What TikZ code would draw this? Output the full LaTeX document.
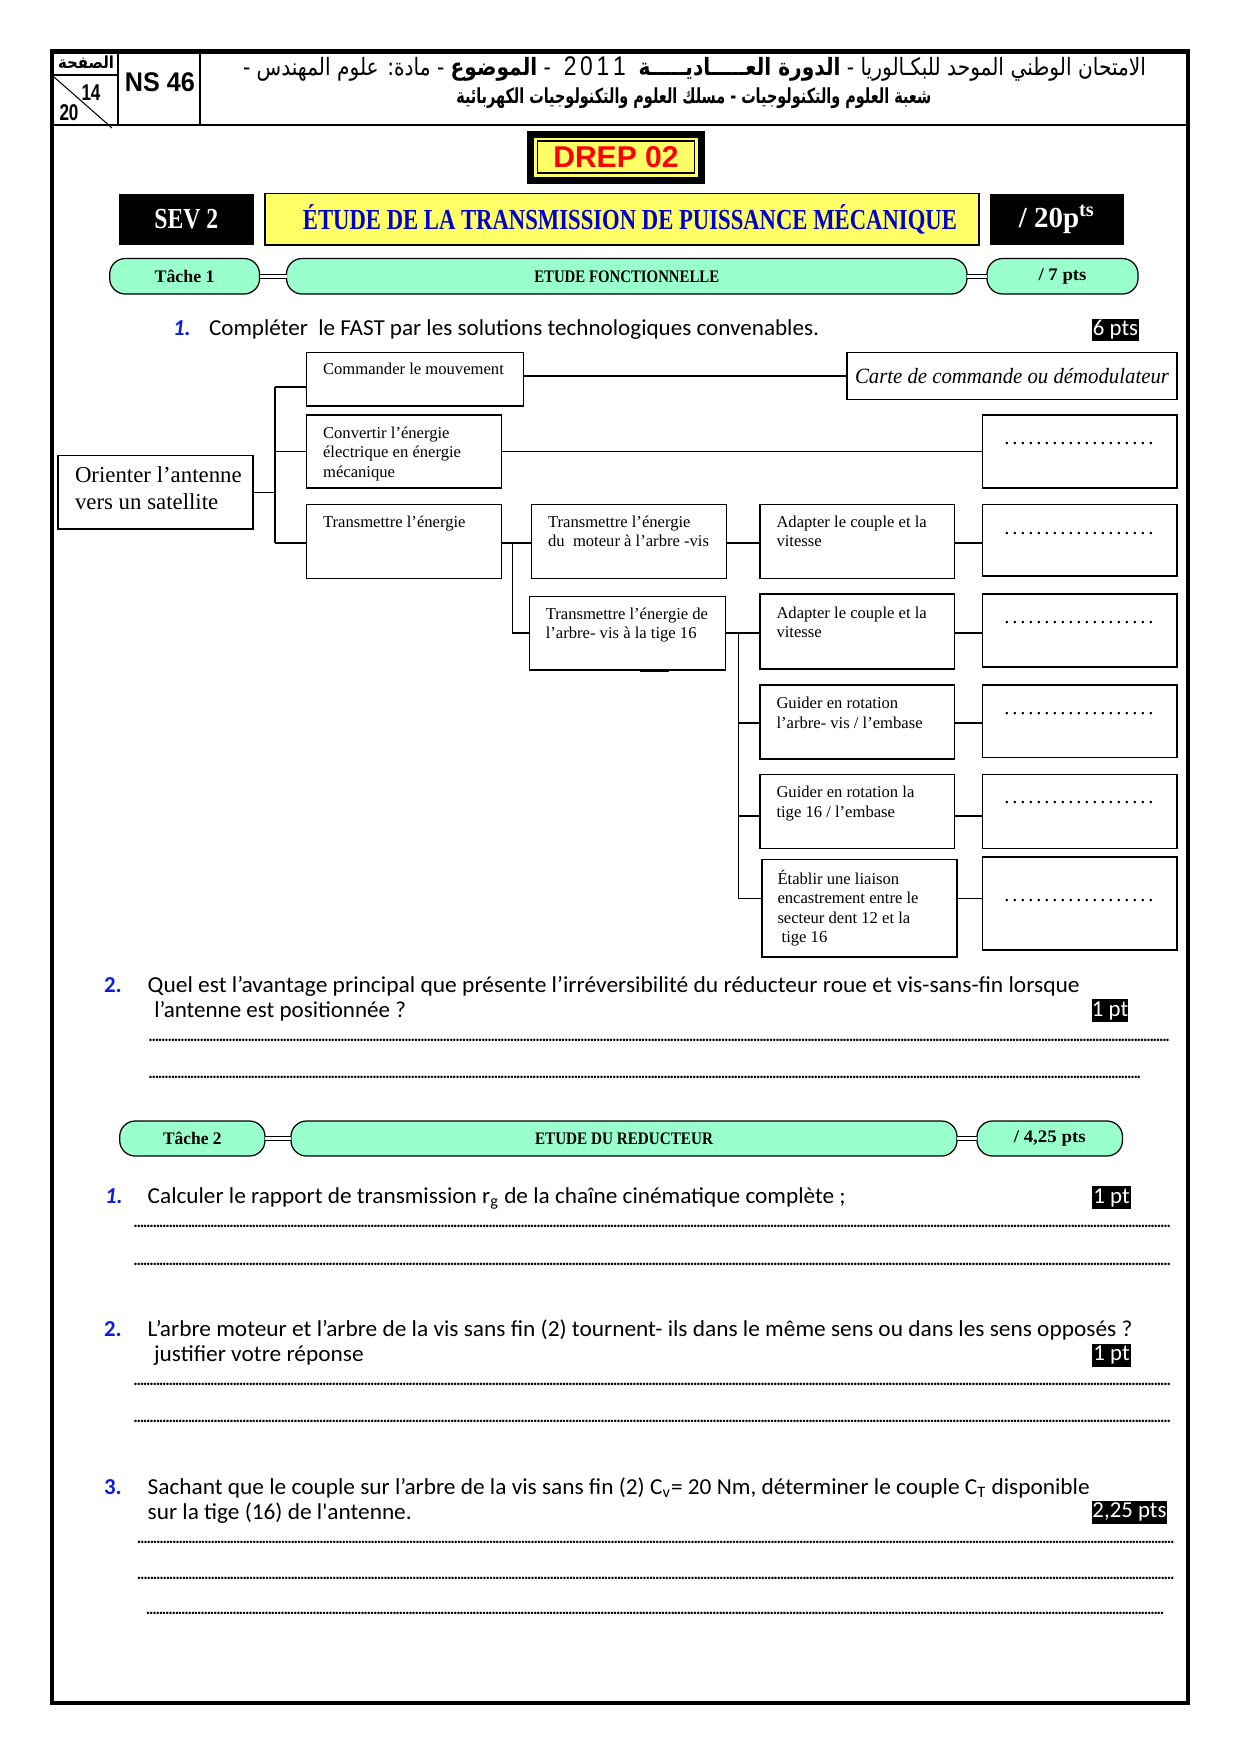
\documentclass[tikz,border=0pt]{standalone}
\usepackage{fontspec}
\usepackage{graphicx}
\setmainfont{Liberation Serif}
\newfontfamily\qf{Carlito}
\newfontfamily\af{Liberation Sans}
\newfontfamily\arabicf[Script=Arabic]{DejaVu Sans}
\TeXXeTstate=1
\newdimen\pxu \pxu=0.48186pt
\newsavebox\fitbox
\newcommand\fitw[2]{\sbox\fitbox{#2}\resizebox{#1}{\ht\fitbox}{\usebox\fitbox}}
\newcommand\dotrow[3]{\hbox to #1{\leaders\hbox to #2{\hss#3\hss}\hfill}}
\definecolor{mint}{RGB}{153,255,204}
\definecolor{yel}{RGB}{255,255,102}
\definecolor{tblue}{RGB}{0,0,204}
\definecolor{qblue}{RGB}{10,30,220}
\newcommand\mybox[7][bxs]{\node[#1, minimum width={(#5-#3)*0.48186pt}, minimum height={(#6-#4)*0.48186pt}] (#2) at ({(#3+#5)/2},{(#4+#6)/2}) {#7};}
\begin{document}
\begin{tikzpicture}[x=0.48186pt,y=-0.48186pt,
  bxs/.style={draw, line width=0.6pt, inner sep=0pt, outer sep=0pt},
  lbl/.style={anchor=north west, inner sep=0pt, outer sep=0pt, align=left, font=\fontsize{8}{9.4}\selectfont},
  capsule/.style={draw, line width=0.6pt, fill=mint, rounded corners=7.5pt, inner sep=0pt, outer sep=0pt, font=\bfseries\fontsize{8.5}{10}\selectfont},
  link/.style={draw, line width=0.5pt, double=white, double distance=1.3pt},
  wire/.style={line width=0.6pt},
  blk/.style={fill=black, inner sep=0pt, outer sep=0pt, text=white},
  pts/.style={fill=black, text=white, inner sep=0pt, outer sep=0pt, font=\qf\fontsize{11}{11}\selectfont},
  q/.style={anchor=base west, inner sep=0pt, outer sep=0pt, font=\qf\fontsize{11}{13}\selectfont},
  qn/.style={anchor=base west, inner sep=0pt, outer sep=0pt, text=qblue, font=\qf\bfseries\fontsize{11}{13}\selectfont},
  dl/.style={anchor=base west, inner sep=0pt, outer sep=0pt, font=\qf\bfseries\fontsize{8}{8}\selectfont},
  ad/.style={anchor=base west, inner sep=0pt, outer sep=0pt, font=\fontsize{10}{10}\selectfont},
]
\useasboundingbox (0,0) rectangle (1240,1755);
% page frame and header
\draw[line width=2.1pt] (52,51.5) rectangle (1188,1703);
\draw[line width=1.4pt] (52,125) -- (1188,125);
\draw[line width=1.2pt] (118,51.5) -- (118,125);
\draw[line width=1.2pt] (200,51.5) -- (200,125);
\draw[line width=0.9pt] (52,75) -- (118,75);
\draw[line width=0.5pt] (54,77) -- (112,128);
\node[inner sep=0pt] (pg) at (86,62) {\fitw{56\pxu}{\arabicf\bfseries\fontsize{8}{8}\selectfont\beginR الصفحة\endR}};
\node[inner sep=0pt, font=\af\bfseries\fontsize{11}{11}\selectfont] (p14) at (91,93) {\fitw{19\pxu}{14}};
\node[inner sep=0pt, font=\af\bfseries\fontsize{11}{11}\selectfont] (p20) at (69,113) {\fitw{19\pxu}{20}};
\node[inner sep=0pt] (ns) at (160,82) {\fitw{70\pxu}{\af\bfseries\fontsize{13}{13}\selectfont NS 46}};
\node[inner sep=0pt] (ar1) at (694.5,69) {\fitw{903\pxu}{\arabicf\fontsize{11.5}{12}\selectfont\beginR الامتحان الوطني الموحد للبكـالوريا - {\bfseries الدورة العـــــاديـــــة}\ \ \beginL{\af\fontsize{13}{13}\selectfont 2\,0\,1\,1}\endL\ \ - {\bfseries الموضوع} - مادة: علوم المهندس -\endR}};
\node[inner sep=0pt] (ar2) at (693.8,98.5) {\fitw{475\pxu}{\arabicf\bfseries\fontsize{10}{10}\selectfont\beginR شعبة العلوم والتكنولوجيات - مسلك العلوم والتكنولوجيات الكهربائية\endR}};
% DREP
\mybox[blk]{drepo}{527}{130.5}{705}{183.5}{}
\mybox[fill=yel, inner sep=0pt, outer sep=0pt]{drepi}{534}{137.5}{698}{176.5}{}
\mybox[draw, line width=0.5pt, inner sep=0pt, outer sep=0pt]{drep}{537.5}{141}{694.5}{173}{\af\bfseries\fontsize{14.5}{14.5}\selectfont\color{red}DREP 02}
% title row
\mybox[blk]{sev}{118.6}{193.6}{254}{245}{\fitw{64\pxu}{\bfseries\fontsize{14}{14}\selectfont SEV 2}}
\mybox[draw, line width=0.8pt, fill=yel, inner sep=0pt, outer sep=0pt, text=tblue]{ttl}{265}{193.6}{979}{245}{\hspace*{16\pxu}\fitw{654\pxu}{\bfseries\fontsize{14}{14}\selectfont ÉTUDE DE LA TRANSMISSION DE PUISSANCE MÉCANIQUE}}
\mybox[blk]{tot}{990}{193.6}{1123.6}{245}{\fitw{76\pxu}{\bfseries\fontsize{14}{14}\selectfont / 20p\textsuperscript{ts}}}
% task 1 row
\mybox[capsule]{k1}{109.7}{258.5}{259.6}{294}{\fitw{60\pxu}{Tâche 1}}
\mybox[capsule]{k2}{286.5}{258.5}{967}{294}{\fitw{185\pxu}{ETUDE FONCTIONNELLE}}
\mybox[capsule]{k3}{987}{258.5}{1138}{294}{\fitw{48\pxu}{/ 7 pts}}
\draw[link] (k1.east) -- (k2.west);
\draw[link] (k2.east) -- (k3.west);
% question 1
\node[qn, font=\qf\bfseries\itshape\fontsize{11}{13}\selectfont] (n1) at (173,335) {1.};
\node[q] (q1) at (209,335) {\fitw{610\pxu}{Compléter~ le FAST par les solutions technologiques convenables.}};
\mybox[pts]{p1}{1092}{319}{1139}{341}{6 pts}
% FAST boxes
\mybox{orient}{58}{455.5}{253}{529}{}
\mybox{cmd}{306.6}{352.5}{523.7}{406}{}
\mybox{carte}{847}{352.5}{1177}{399.5}{\fitw{314\pxu}{\itshape\fontsize{10.5}{12}\selectfont Carte de commande ou démodulateur}}
\mybox{conv}{306.6}{415}{501.4}{488}{}
\mybox{trans}{306.6}{504.7}{501.4}{578.6}{}
\mybox{tm1}{531.6}{504.7}{726.3}{578.6}{}
\mybox{ad1}{760}{504.7}{954.6}{578.6}{}
\mybox{tm2}{529.3}{596.5}{725.2}{670}{}
\mybox{ad2}{760}{594}{954.6}{669}{}
\mybox{g1}{760}{685}{954.6}{759}{}
\mybox{g2}{760}{774.4}{954.6}{848.3}{}
\mybox{etab}{762}{859.5}{957}{957}{}
\mybox{ans1}{982.6}{415}{1177}{488}{}
\mybox{ans2}{982.6}{504.7}{1177}{576}{}
\mybox{ans3}{982.6}{594}{1177}{667}{}
\mybox{ans4}{982.6}{685}{1177}{757.6}{}
\mybox{ans5}{982.6}{774.4}{1177}{848.3}{}
\mybox{ans6}{982.6}{857}{1177}{950}{}
% labels
\node[lbl, font=\fontsize{11}{13}\selectfont] (orient-t) at ([shift={(17,11.5)}]orient.north west) {Orienter l’antenne\\vers un satellite};
\node[lbl] (cmd-t) at ([shift={(16.5,10.4)}]cmd.north west) {Commander le mouvement};
\node[lbl] (conv-t) at ([shift={(16.5,11.5)}]conv.north west) {Convertir l’énergie\\électrique en énergie\\mécanique};
\node[lbl] (trans-t) at ([shift={(16.5,11)}]trans.north west) {Transmettre l’énergie};
\node[lbl] (tm1-t) at ([shift={(16.5,11)}]tm1.north west) {Transmettre l’énergie\\du~ moteur à l’arbre -vis};
\node[lbl] (tm2-t) at ([shift={(16.5,11)}]tm2.north west) {Transmettre l’énergie de\\l’arbre- vis à la tige 16};
\node[lbl] (ad1-t) at ([shift={(16.5,11)}]ad1.north west) {Adapter le couple et la\\vitesse};
\node[lbl] (ad2-t) at ([shift={(16.5,12.5)}]ad2.north west) {Adapter le couple et la\\vitesse};
\node[lbl] (g1-t) at ([shift={(16.5,12)}]g1.north west) {Guider en rotation\\l’arbre- vis / l’embase};
\node[lbl] (g2-t) at ([shift={(16.5,12)}]g2.north west) {Guider en rotation la\\tige 16 / l’embase};
\node[lbl] (etab-t) at ([shift={(15.5,10.5)}]etab.north west) {Établir une liaison\\encastrement entre le\\secteur dent 12 et la\\\ tige 16};
% answer dots
\foreach \a in {ans1,ans2,ans3,ans4,ans5}{
  \node[ad] (\a-d) at ([shift={(20.4,29.5)}]\a.north west) {\dotrow{152\pxu}{8\pxu}{.}};
}
\node[ad] (ans6-d) at ([shift={(20.4,44.5)}]ans6.north west) {\dotrow{152\pxu}{8\pxu}{.}};
% FAST connectors
\coordinate (s1) at (275,387);
\coordinate (s3) at (275,543);
\draw[wire] (s1) -- (s3);
\draw[wire] (orient.east) -- (orient.east -| s1);
\draw[wire] (s1) -- (s1 -| cmd.west);
\draw[wire] (conv.west -| s1) -- (conv.west);
\draw[wire] (s3) -- (s3 -| trans.west);
\draw[wire] (cmd.east |- carte.west) -- (carte.west);
\draw[wire] (conv.east) -- (conv.east -| ans1.west);
\coordinate (t1) at (512.6,543);
\coordinate (t2) at (512.6,633);
\draw[wire] (trans.east |- t1) -- (t1 -| tm1.west);
\draw[wire] (t1) -- (t2) -- (t2 -| tm2.west);
\draw[wire] (tm1.east |- t1) -- (t1 -| ad1.west);
\draw[wire] (ad1.east |- t1) -- (t1 -| ans2.west);
\coordinate (u1) at (738.6,633);
\coordinate (u2) at (738.6,723);
\coordinate (u3) at (738.6,816);
\coordinate (u4) at (738.6,898.6);
\draw[wire] (tm2.east |- u1) -- (u1 -| ad2.west);
\draw[wire] (u1) -- (u4);
\draw[wire] (u2) -- (u2 -| g1.west);
\draw[wire] (u3) -- (u3 -| g2.west);
\draw[wire] (u4) -- (u4 -| etab.west);
\draw[wire] (ad2.east |- u1) -- (u1 -| ans3.west);
\draw[wire] (g1.east |- u2) -- (u2 -| ans4.west);
\draw[wire] (g2.east |- u3) -- (u3 -| ans5.west);
\draw[wire] (etab.east |- u4) -- (u4 -| ans6.west);
\draw[line width=1pt] (640,670.5) -- (669,670.5);
% question 2
\node[qn] (n2) at (104,992) {2.};
\node[q] (q2a) at (147.7,992) {\fitw{932\pxu}{Quel est l’avantage principal que présente l’irréversibilité du réducteur roue et vis-sans-fin lorsque}};
\node[q] (q2b) at (154.4,1017) {\fitw{251.6\pxu}{l’antenne est positionnée ?}};
\mybox[pts]{p2}{1092}{999}{1128}{1022}{1 pt}
\node[dl] (d1) at (149,1041) {\dotrow{1022\pxu}{3.2\pxu}{.}};
\node[dl] (d2) at (149,1078) {\dotrow{992.5\pxu}{3.2\pxu}{.}};
% task 2 row
\mybox[capsule]{m1}{119.7}{1121}{265}{1156}{\fitw{58.6\pxu}{Tâche 2}}
\mybox[capsule]{m2}{291}{1121}{957}{1156}{\fitw{178\pxu}{ETUDE DU REDUCTEUR}}
\mybox[capsule]{m3}{977}{1121}{1122.5}{1156}{\fitw{72\pxu}{/ 4,25 pts}}
\draw[link] (m1.east) -- (m2.west);
\draw[link] (m2.east) -- (m3.west);
% task 2 questions
\node[qn, font=\qf\bfseries\itshape\fontsize{11}{13}\selectfont] (n3) at (105,1203.5) {1.};
\node[q] (q3) at (147.7,1203.5) {\fitw{698\pxu}{Calculer le rapport de transmission r\textsubscript{g} de la chaîne cinématique complète ;}};
\mybox[pts]{p3}{1092}{1186}{1131}{1209}{1 pt}
\node[dl] (d3) at (134,1227.5) {\dotrow{1039\pxu}{3.2\pxu}{.}};
\node[dl] (d4) at (134,1265.5) {\dotrow{1039\pxu}{3.2\pxu}{.}};
\node[qn] (n4) at (104,1336.6) {2.};
\node[q] (q4a) at (147.7,1336.6) {\fitw{984.8\pxu}{L’arbre moteur et l’arbre de la vis sans fin (2) tournent- ils dans le même sens ou dans les sens opposés ?}};
\node[q] (q4b) at (154,1361) {\fitw{209.7\pxu}{justifier votre réponse}};
\mybox[pts]{p4}{1092}{1344}{1131}{1366.5}{1 pt}
\node[dl] (d5) at (134,1385) {\dotrow{1039\pxu}{3.2\pxu}{.}};
\node[dl] (d6) at (134,1422) {\dotrow{1039\pxu}{3.2\pxu}{.}};
\node[qn] (n5) at (104,1494.4) {3.};
\node[q] (q5a) at (147.7,1494.4) {\fitw{942\pxu}{Sachant que le couple sur l’arbre de la vis sans fin (2) C\textsubscript{v}= 20 Nm, déterminer le couple C\textsubscript{T} disponible}};
\node[q] (q5b) at (147.7,1519) {\fitw{264\pxu}{sur la tige (16) de l'antenne.}};
\mybox[pts]{p5}{1092}{1500.7}{1167}{1524}{2,25 pts}
\node[dl] (d7) at (137.6,1543) {\dotrow{1038.4\pxu}{3.2\pxu}{.}};
\node[dl] (d8) at (137.6,1579) {\dotrow{1038.4\pxu}{3.2\pxu}{.}};
\node[dl] (d9) at (146.6,1614.7) {\dotrow{1020.4\pxu}{3.2\pxu}{.}};
\end{tikzpicture}
\end{document}
